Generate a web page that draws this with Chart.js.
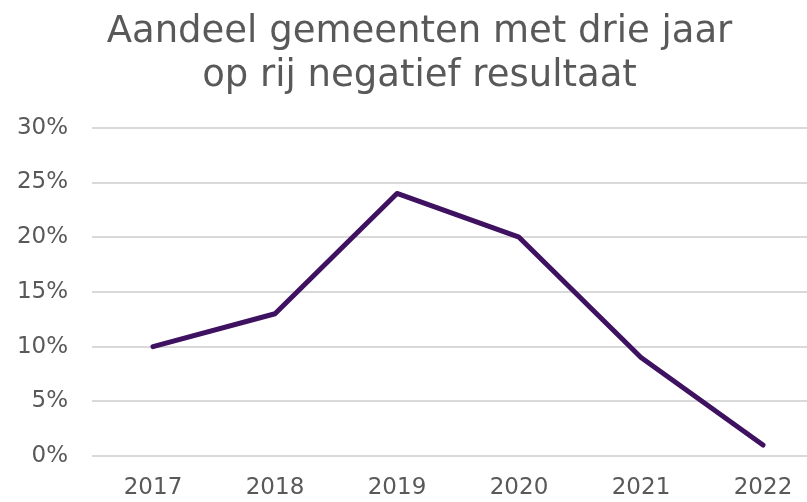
<!DOCTYPE html>
<html>
<head>
<meta charset="utf-8">
<script src="https://cdn.jsdelivr.net/npm/chart.js@4/dist/chart.umd.min.js"></script>
<style>
  html, body { margin: 0; padding: 0; background: #ffffff; overflow: hidden; }
  #wrap { width: 830px; height: 502px; overflow: hidden; }
</style>
</head>
<body>
<div id="wrap"><canvas id="c" width="830" height="502"></canvas></div>
<script>
const titleLines = ["Aandeel gemeenten met drie jaar", "op rij negatief resultaat"];
const categories = ["2017", "2018", "2019", "2020", "2021", "2022"];
const seriesValues = [10, 13, 24, 20, 9, 1];
const yTicks = [0, 5, 10, 15, 20, 25, 30];

const grey = "#595959";
new Chart(document.getElementById("c"), {
  type: "line",
  data: {
    labels: categories,
    datasets: [{
      label: "Aandeel",
      data: seriesValues,
      borderColor: "#3f1261",
      borderWidth: 5,
      pointRadius: 0,
      borderCapStyle: "round",
      borderJoinStyle: "round",
      tension: 0,
      fill: false
    }]
  },
  options: {
    responsive: false,
    animation: false,
    devicePixelRatio: 1,
    layout: { padding: { left: 15, right: 6, top: 4, bottom: 0 } },
    plugins: {
      legend: { display: false },
      tooltip: { enabled: false },
      title: {
        display: true,
        text: titleLines,
        color: grey,
        font: { family: "DejaVu Sans", size: 37, weight: "normal", lineHeight: 1.2 },
        padding: { top: 6, bottom: 29 }
      }
    },
    scales: {
      x: {
        offset: true,
        grid: { display: false, drawTicks: false },
        border: { display: false },
        ticks: { color: grey, font: { family: "DejaVu Sans", size: 23 }, padding: 18, maxRotation: 0 },
        afterFit: (axis) => { axis.height = 46; }
      },
      y: {
        min: yTicks[0],
        max: yTicks[yTicks.length - 1],
        afterBuildTicks: (axis) => { axis.ticks = yTicks.map(v => ({ value: v })); },
        grid: { color: "#d9d9d9", lineWidth: 2, drawTicks: false },
        border: { display: false },
        ticks: {
          color: grey,
          font: { family: "DejaVu Sans", size: 23 },
          padding: 24,
          callback: (v) => v + "%"
        },
        afterFit: (axis) => { axis.width = 77; }
      }
    }
  }
});
</script>
</body>
</html>
